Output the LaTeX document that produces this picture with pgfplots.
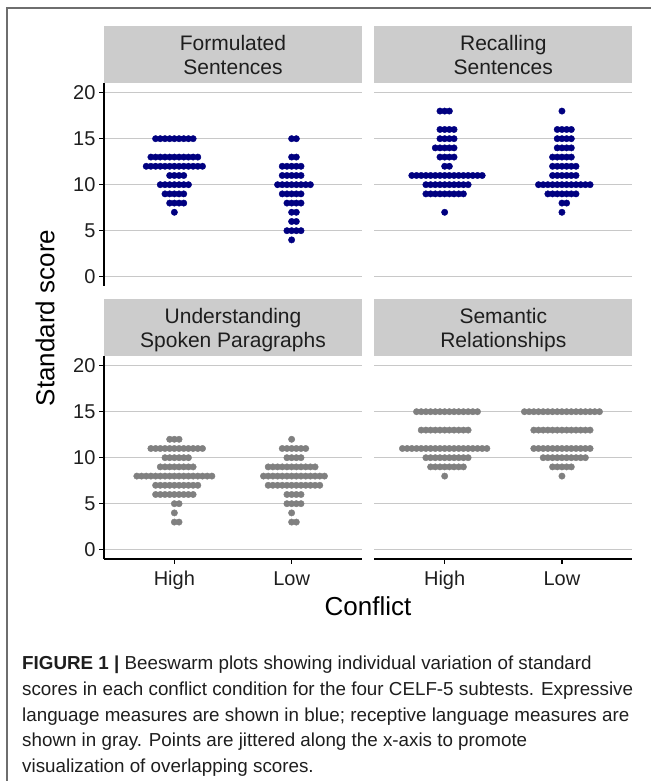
\documentclass[border=0pt]{standalone}
\usepackage{fontspec}
\setmainfont{Liberation Sans}
\usepackage{pgfplots}
\pgfplotsset{compat=1.18}
\definecolor{navyd}{RGB}{0,0,128}
\definecolor{dotgray}{RGB}{128,128,128}
\definecolor{stripg}{RGB}{204,204,204}
\definecolor{gridg}{RGB}{200,200,200}
\definecolor{framec}{RGB}{110,110,110}
\definecolor{txt}{RGB}{30,30,30}

\pgfplotsset{
  panel/.style={
    scale only axis, width=258bp, height=202.4bp,
    xmin=-15, xmax=40, ymin=-1, ymax=21,
    ytick={0,5,10,15,20},
    xtick={0,25}, xticklabels={High,Low},
    ymajorgrids, major grid style={gridg, line width=1.3bp},
    axis lines*=left, axis line style={black, line width=1.3bp},
    tick style={black, line width=1.3bp},
    tick align=outside, major tick length=5bp,
    ticklabel style={font=\fontsize{20bp}{24bp}\selectfont, text=txt},
    xticklabel style={yshift=-4bp},
    /pgf/number format/assume math mode=true,
    anchor=south west,
  },
  toprow/.style={x axis line style={draw=none}, xtick=\empty},
  rightcol/.style={y axis line style={draw=none}, ytick style={draw=none}, yticklabels={}},
  dots/.style={only marks, color=#1, mark=*, mark size=3.2bp, mark options={draw=none, fill=#1}},
}

\begin{document}
\begin{tikzpicture}[x=1bp,y=1bp]
\useasboundingbox (0,0) rectangle (651,781);
\draw[framec, line width=1.2bp] (7,-2) -- (7,773) -- (653,773);

% Formulated Sentences
\begin{axis}[panel, toprow, at={(104bp,495.1bp)}]
\addplot[dots=navyd] coordinates {
(-4,15)(-3,15)(-2,15)(-1,15)(0,15)(1,15)(2,15)(3,15)(4,15)
(-5,13)(-4,13)(-3,13)(-2,13)(-1,13)(0,13)(1,13)(2,13)(3,13)(4,13)(5,13)
(-6,12)(-5,12)(-4,12)(-3,12)(-2,12)(-1,12)(0,12)(1,12)(2,12)(3,12)(4,12)(5,12)(6,12)
(-1,11)(0,11)(1,11)(2,11)
(-3,10)(-2,10)(-1,10)(0,10)(1,10)(2,10)(3,10)
(-2,9)(-1,9)(0,9)(1,9)(2,9)
(-1,8)(0,8)(1,8)(2,8)
(0,7)
};
\addplot[dots=navyd] coordinates {
(25,15)(26,15)
(25,13)(26,13)
(23,12)(24,12)(25,12)(26,12)(27,12)
(23,11)(24,11)(25,11)(26,11)(27,11)
(22,10)(23,10)(24,10)(25,10)(26,10)(27,10)(28,10)(29,10)
(23,9)(24,9)(25,9)(26,9)(27,9)
(24,8)(25,8)(26,8)(27,8)
(25,7)(26,7)
(25,6)(26,6)
(24,5)(25,5)(26,5)(27,5)
(25,4)
};
\end{axis}

% Recalling Sentences
\begin{axis}[panel, toprow, rightcol, at={(374.3bp,495.1bp)}]
\addplot[dots=navyd] coordinates {
(-1,18)(0,18)(1,18)
(-1,16)(0,16)(1,16)(2,16)
(-1,15)(0,15)(1,15)(2,15)
(-2,14)(-1,14)(0,14)(1,14)(2,14)
(-1,13)(0,13)(1,13)(2,13)
(0,12)(1,12)
(-7,11)(-6,11)(-5,11)(-4,11)(-3,11)(-2,11)(-1,11)(0,11)(1,11)(2,11)(3,11)(4,11)(5,11)(6,11)(7,11)(8,11)
(-4,10)(-3,10)(-2,10)(-1,10)(0,10)(1,10)(2,10)(3,10)(4,10)(5,10)
(-4,9)(-3,9)(-2,9)(-1,9)(0,9)(1,9)(2,9)(3,9)(4,9)
(0,7)
};
\addplot[dots=navyd] coordinates {
(25,18)
(24,16)(25,16)(26,16)(27,16)
(24,15)(25,15)(26,15)(27,15)
(24,14)(25,14)(26,14)(27,14)
(23,13)(24,13)(25,13)(26,13)(27,13)
(23,12)(24,12)(25,12)(26,12)(27,12)(28,12)
(23,11)(24,11)(25,11)(26,11)(27,11)(28,11)
(20,10)(21,10)(22,10)(23,10)(24,10)(25,10)(26,10)(27,10)(28,10)(29,10)(30,10)(31,10)
(22,9)(23,9)(24,9)(25,9)(26,9)(27,9)(28,9)
(25,8)(26,8)
(25,7)
};
\end{axis}

% Understanding Spoken Paragraphs
\begin{axis}[panel, at={(104bp,222.1bp)}]
\addplot[dots=dotgray] coordinates {
(-1,12)(0,12)(1,12)
(-5,11)(-4,11)(-3,11)(-2,11)(-1,11)(0,11)(1,11)(2,11)(3,11)(4,11)(5,11)(6,11)
(-2,10)(-1,10)(0,10)(1,10)(2,10)(3,10)
(-3,9)(-2,9)(-1,9)(0,9)(1,9)(2,9)(3,9)(4,9)
(-8,8)(-7,8)(-6,8)(-5,8)(-4,8)(-3,8)(-2,8)(-1,8)(0,8)(1,8)(2,8)(3,8)(4,8)(5,8)(6,8)(7,8)(8,8)
(-4,7)(-3,7)(-2,7)(-1,7)(0,7)(1,7)(2,7)(3,7)(4,7)(5,7)
(-4,6)(-3,6)(-2,6)(-1,6)(0,6)(1,6)(2,6)(3,6)(4,6)
(0,5)(1,5)
(0,4)
(0,3)(1,3)
};
\addplot[dots=dotgray] coordinates {
(25,12)
(23,11)(24,11)(25,11)(26,11)(27,11)(28,11)
(24,10)(25,10)(26,10)(27,10)
(20,9)(21,9)(22,9)(23,9)(24,9)(25,9)(26,9)(27,9)(28,9)(29,9)(30,9)
(19,8)(20,8)(21,8)(22,8)(23,8)(24,8)(25,8)(26,8)(27,8)(28,8)(29,8)(30,8)(31,8)(32,8)
(20,7)(21,7)(22,7)(23,7)(24,7)(25,7)(26,7)(27,7)(28,7)(29,7)(30,7)(31,7)
(24,6)(25,6)(26,6)(27,6)
(24,5)(25,5)(26,5)(27,5)
(25,4)
(25,3)(26,3)
};
\end{axis}

% Semantic Relationships
\begin{axis}[panel, rightcol, at={(374.3bp,222.1bp)}]
\addplot[dots=dotgray] coordinates {
(-6,15)(-5,15)(-4,15)(-3,15)(-2,15)(-1,15)(0,15)(1,15)(2,15)(3,15)(4,15)(5,15)(6,15)(7,15)
(-5,13)(-4,13)(-3,13)(-2,13)(-1,13)(0,13)(1,13)(2,13)(3,13)(4,13)(5,13)
(-9,11)(-8,11)(-7,11)(-6,11)(-5,11)(-4,11)(-3,11)(-2,11)(-1,11)(0,11)(1,11)(2,11)(3,11)(4,11)(5,11)(6,11)(7,11)(8,11)(9,11)
(-4,10)(-3,10)(-2,10)(-1,10)(0,10)(1,10)(2,10)(3,10)(4,10)(5,10)
(-3,9)(-2,9)(-1,9)(0,9)(1,9)(2,9)(3,9)(4,9)
(0,8)
};
\addplot[dots=dotgray] coordinates {
(17,15)(18,15)(19,15)(20,15)(21,15)(22,15)(23,15)(24,15)(25,15)(26,15)(27,15)(28,15)(29,15)(30,15)(31,15)(32,15)(33,15)
(19,13)(20,13)(21,13)(22,13)(23,13)(24,13)(25,13)(26,13)(27,13)(28,13)(29,13)(30,13)(31,13)
(19,11)(20,11)(21,11)(22,11)(23,11)(24,11)(25,11)(26,11)(27,11)(28,11)(29,11)(30,11)(31,11)
(21,10)(22,10)(23,10)(24,10)(25,10)(26,10)(27,10)(28,10)(29,10)(30,10)
(23,9)(24,9)(25,9)(26,9)(27,9)
(25,8)
};
\end{axis}

% strips
\fill[stripg] (104,697.5) rectangle (362,754.5);
\fill[stripg] (374.3,697.5) rectangle (632.3,754.5);
\fill[stripg] (104,424.5) rectangle (362,481.5);
\fill[stripg] (374.3,424.5) rectangle (632.3,481.5);
\begin{scope}[every node/.style={anchor=base, inner sep=0pt, text=txt, font=\fontsize{21bp}{25bp}\selectfont}]
\node at (233,730) {Formulated};
\node at (233,706) {Sentences};
\node at (503.3,730) {Recalling};
\node at (503.3,706) {Sentences};
\node at (233,457) {Understanding};
\node at (233,433) {Spoken Paragraphs};
\node at (503.3,457) {Semantic};
\node at (503.3,433) {Relationships};
\end{scope}

% axis titles
\node[anchor=base, inner sep=0pt, font=\fontsize{26bp}{30bp}\selectfont] at (368,165.7) {Conflict};
\node[anchor=base, rotate=90, inner sep=0pt, font=\fontsize{26bp}{30bp}\selectfont] at (54.3,463) {Standard score};

% caption
\begin{scope}[every node/.style={anchor=base west, inner sep=0pt, text=txt, font=\fontsize{18.8bp}{22bp}\selectfont}]
\node at (22,111.5) {\textbf{FIGURE 1 |} Beeswarm plots showing individual variation of standard};
\node at (22,85.5) {scores in each conflict condition for the four CELF-5 subtests. Expressive};
\node at (22,59.5) {language measures are shown in blue; receptive language measures are};
\node at (22,34.5) {shown in gray. Points are jittered along the x-axis to promote};
\node at (22,8.5) {visualization of overlapping scores.};
\end{scope}
\end{tikzpicture}
\end{document}
